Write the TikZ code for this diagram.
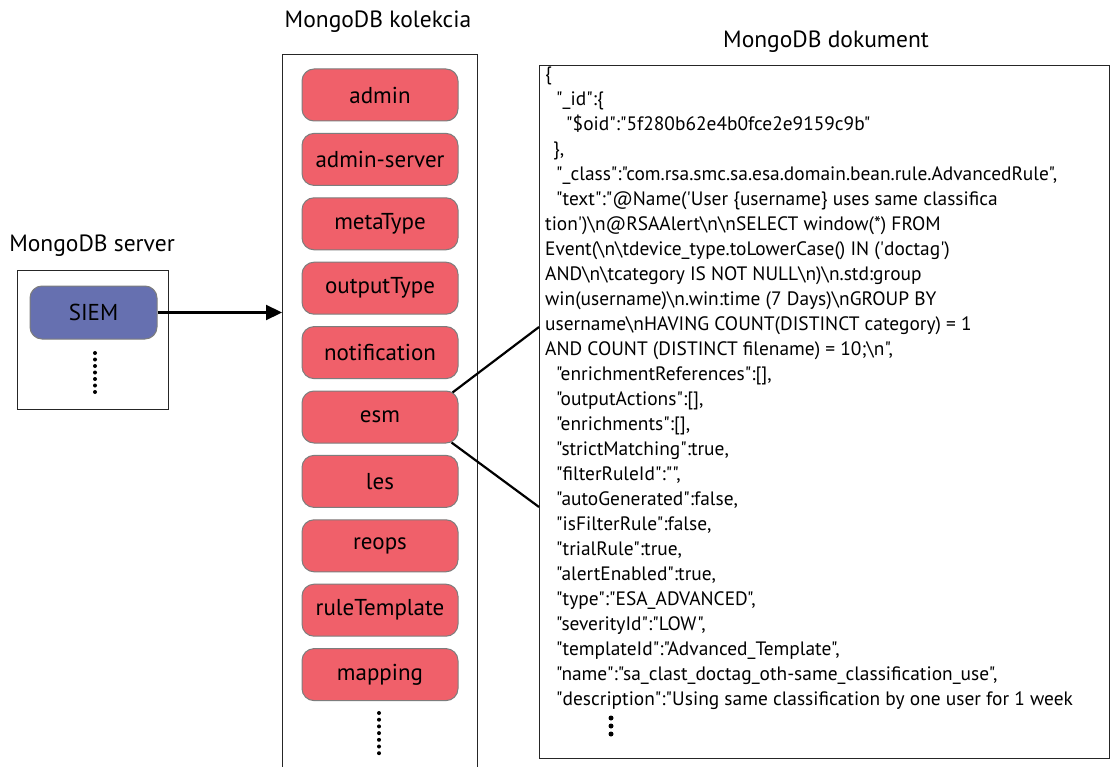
\documentclass[tikz,border=0pt]{standalone}
\usepackage{fontspec}
\setmainfont{PT Sans}[Ligatures=TeXOff]
\usetikzlibrary{arrows.meta,calc}
\definecolor{collred}{RGB}{240,96,106}
\definecolor{siemblue}{RGB}{102,112,176}
\definecolor{edgegray}{RGB}{125,125,125}
\def\bs{\textbackslash}
\begin{document}
\begin{tikzpicture}[x=1pt,y=-1pt,
  title/.style={font=\fontsize{23.5}{27}\selectfont, inner sep=0pt},
  frame/.style={draw=black!85, line width=1.3pt, fill=white, inner sep=0pt},
  coll/.style={draw=edgegray, line width=1pt, fill=collred, rounded corners=12pt,
    minimum width=156pt, minimum height=52pt, inner sep=0pt,
    font=\fontsize{23}{26}\selectfont},
  siem/.style={coll, fill=siemblue, minimum width=127pt, minimum height=53pt},
  link/.style={line width=2.2pt, black},
  dotmark/.style={circle, fill=black, inner sep=0pt, minimum size=4pt}
]
\useasboundingbox (0,0) rectangle (1110,767);
\clip (0,0) rectangle (1110,767);

% titles
\node[title] (tserver) at (92,246) {MongoDB server};
\node[title] (tcoll) at (378,22) {MongoDB kolekcia};
\node[title] (tdoc) at (826,42) {MongoDB dokument};

% server box
\node[frame, anchor=north west, minimum width=151pt, minimum height=139pt] (server) at (17,270) {};
\node[siem] (siemnode) at (93.5,312.5) {SIEM};
\foreach \i in {0,...,6} \node[dotmark] (sd\i) at (95,353+\i*6.5) {};

% collection box
\node[frame, anchor=north west, minimum width=195pt, minimum height=730pt] (collbox) at (282,54) {};
\foreach \n/\t [count=\k from 0] in {admin/admin, adminserver/admin-server, metaType/metaType,
   outputType/outputType, notification/notification, esm/esm, les/les, reops/reops,
   ruleTemplate/ruleTemplate, mapping/mapping}
  \node[coll] (\n) at (380,95+\k*64.4) {\t};
\foreach \i in {0,...,6} \node[dotmark] (cd\i) at (379,713+\i*6.7) {};

% document box
\node[frame, anchor=north west, minimum width=570pt, minimum height=693pt] (doc) at (539,65) {};
\node[anchor=north west, inner sep=0pt, align=left,
      font=\fontsize{19.4}{25}\selectfont] (doctext) at (545,67) {%
\{\\
\hspace{11pt}"\_id":\{\\
\hspace{21pt}"\$oid":"5f280b62e4b0fce2e9159c9b"\\
\hspace{8pt}\},\\
\hspace{11pt}"\_class":"com.rsa.smc.sa.esa.domain.bean.rule.AdvancedRule",\\
\hspace{11pt}"text":"@Name('User \{username\} uses same classifica\\
tion')\bs n@RSAAlert\bs n\bs nSELECT window(*) FROM\\
Event(\bs n\bs tdevice\_type.toLowerCase() IN ('doctag')\\
AND\bs n\bs tcategory IS NOT NULL\bs n)\bs n.std:group\\
win(username)\bs n.win:time (7 Days)\bs nGROUP BY\\
username\bs nHAVING COUNT(DISTINCT category) = 1\\
AND COUNT (DISTINCT filename) = 10;\bs n",\\
\hspace{11pt}"enrichmentReferences":[],\\
\hspace{11pt}"outputActions":[],\\
\hspace{11pt}"enrichments":[],\\
\hspace{11pt}"strictMatching":true,\\
\hspace{11pt}"filterRuleId":"",\\
\hspace{11pt}"autoGenerated":false,\\
\hspace{11pt}"isFilterRule":false,\\
\hspace{11pt}"trialRule":true,\\
\hspace{11pt}"alertEnabled":true,\\
\hspace{11pt}"type":"ESA\_ADVANCED",\\
\hspace{11pt}"severityId":"LOW",\\
\hspace{11pt}"templateId":"Advanced\_Template",\\
\hspace{11pt}"name":"sa\_clast\_doctag\_oth-same\_classification\_use",\\
\hspace{11pt}"description":"Using same classification by one user for 1 week};
\foreach \i in {0,...,2} \node[dotmark, minimum size=5pt] (dd\i) at (611,718+\i*8) {};

% connectors
\draw[link, -{Triangle[length=16pt,width=15pt]}] (siemnode.east) -- (siemnode.east -| collbox.west);
\coordinate (docA) at ($(doc.north west)+(0,262)$);
\coordinate (docB) at ($(doc.north west)+(0,442)$);
\draw[link] ($(esm.north east)+(-6,2)$) -- (docA);
\draw[link] ($(esm.south east)+(-7,-1)$) -- (docB);
\end{tikzpicture}
\end{document}
